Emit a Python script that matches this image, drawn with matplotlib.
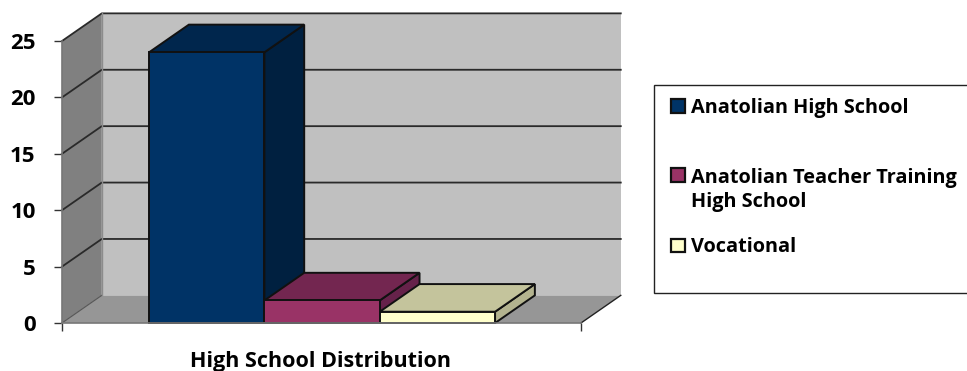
import matplotlib
matplotlib.use('Agg')
import matplotlib.pyplot as plt
from matplotlib.patches import Polygon, Rectangle

plt.rcParams['font.family'] = ['Open Sans', 'DejaVu Sans']
plt.rcParams['font.weight'] = 'bold'

# data
categories = ['Anatolian High School', 'Anatolian Teacher Training\nHigh School', 'Vocational']
values = [24, 2, 1]
y_ticks = [0, 5, 10, 15, 20, 25]
x_title = 'High School Distribution'

front_colors = ['#003366', '#993366', '#FFFFCC']
top_colors = ['#00264D', '#732650', '#C4C49C']
side_colors = ['#002040', '#66224A', '#B3B38F']
edge = '#111111'

# fake 3d depth, in data units
DX = 0.345
DY = 2.45
XMAX = 4.5
BAR_W = 1.0
BAR_START = 0.755

W, H = 967, 371
fig = plt.figure(figsize=(W / 100, H / 100), dpi=100)
ax = fig.add_axes([62 / W, 1 - 323 / H, 519 / W, 282 / H])
ax.set_xlim(0, XMAX)
ax.set_ylim(0, 25)


def poly(pts, face, ec=edge, lw=1.4, z=1):
    ax.add_patch(Polygon(pts, closed=True, facecolor=face, edgecolor=ec, linewidth=lw,
                         clip_on=False, zorder=z, joinstyle='miter'))


# walls and floor
ymax = y_ticks[-1]
poly([(DX, DY), (XMAX + DX, DY), (XMAX + DX, ymax + DY), (DX, ymax + DY)], '#C0C0C0', ec='none')
poly([(0, 0), (DX, DY), (DX, ymax + DY), (0, ymax)], '#808080', ec='none')
poly([(0, 0), (XMAX, 0), (XMAX + DX, DY), (DX, DY)], '#969696', ec='none')

# gridlines go along the side wall and across the back
for v in y_ticks[1:]:
    ax.plot([0, DX, XMAX + DX], [v, v + DY, v + DY], color='#2A2A2A', lw=1.3,
            clip_on=False, zorder=2)
ax.plot([0, DX], [0, DY], color='#555555', lw=0.8, clip_on=False, zorder=2)
ax.plot([XMAX, XMAX + DX], [0, DY], color='#222222', lw=1.0, clip_on=False, zorder=2)
ax.plot([DX, DX], [DY, ymax + DY], color='#8C8C8C', lw=1.0, clip_on=False, zorder=2)

# bars, left to right so the nearer faces overlap
for i, v in enumerate(values):
    x0 = BAR_START + i * BAR_W
    x1 = x0 + BAR_W
    z = 3 + i
    poly([(x1, 0), (x1 + DX, DY), (x1 + DX, v + DY), (x1, v)], side_colors[i], z=z)
    poly([(x0, v), (x1, v), (x1 + DX, v + DY), (x0 + DX, v + DY)], top_colors[i], z=z)
    poly([(x0, 0), (x1, 0), (x1, v), (x0, v)], front_colors[i], z=z)

# axes
for s in ['top', 'right']:
    ax.spines[s].set_visible(False)
for s in ['left', 'bottom']:
    ax.spines[s].set_color('#777777')
    ax.spines[s].set_linewidth(1.2)
    ax.spines[s].set_zorder(6)
ax.patch.set_visible(False)
ax.set_yticks(y_ticks)
ax.set_xticks([0, XMAX])
ax.set_xticklabels([])
ax.tick_params(axis='y', length=6, width=1, color='#333333', labelsize=16, pad=13)
ax.tick_params(axis='x', length=6, width=1, color='#333333')
for t in ax.get_yticklabels():
    t.set_fontweight('bold')
fig.text(321 / W, 1 - 362 / H, x_title, ha='center', va='center', fontsize=15.5,
         fontweight='bold', color='black')

# legend box, positioned by hand because the rows are unevenly spaced
fig.add_artist(Rectangle((654 / W, 1 - 292.5 / H), 330 / W, 207.5 / H, transform=fig.transFigure,
                         facecolor='white', edgecolor='#222222', linewidth=1))
swatch_rows = [106, 175, 245]
for c, y in zip(front_colors, swatch_rows):
    fig.add_artist(Rectangle((671 / W, 1 - (y + 6.5) / H), 14 / W, 13 / H, transform=fig.transFigure,
                             facecolor=c, edgecolor='#111111', linewidth=1.6))
text_rows = [108, 190, 247]
for label, y in zip(categories, text_rows):
    fig.text(691 / W, 1 - y / H, label, ha='left', va='center', fontsize=14.3,
             fontweight='bold', color='black', linespacing=1.3)

fig.savefig('out.png', dpi=100, facecolor='white')
